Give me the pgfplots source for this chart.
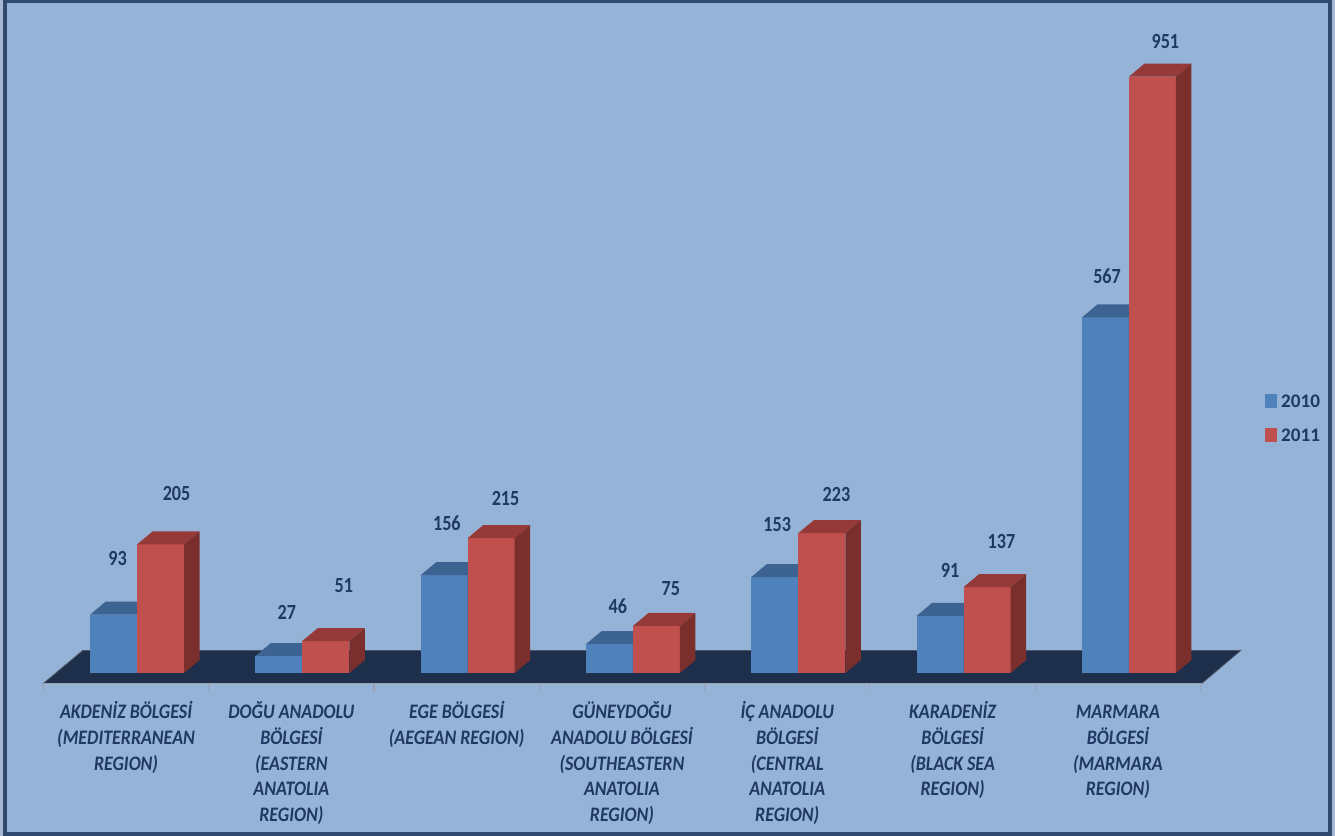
\documentclass[border=0pt]{standalone}
\usepackage{fontspec}
\setmainfont{Carlito}
\usepackage{graphicx}
\usepackage{pgfplots}
\pgfplotsset{compat=1.18}
\usepackage{pgfplotstable}

\definecolor{bgblue}{HTML}{95B3D7}
\definecolor{outer}{HTML}{A4B8D2}
\definecolor{frame}{HTML}{2F4A6E}
\definecolor{floor}{HTML}{1D2F4A}
\definecolor{axisgray}{HTML}{9AA3AF}
\definecolor{navy}{HTML}{1F3864}
\definecolor{bfront}{HTML}{4F81BD}
\definecolor{btop}{HTML}{3C6392}
\definecolor{bside}{HTML}{355782}
\definecolor{rfront}{HTML}{C0504D}
\definecolor{rtop}{HTML}{953A38}
\definecolor{rside}{HTML}{7B2F2D}

% bar geometry (pt): half width, depth offsets, pt per unit
\def\bw{11.75pt}
\def\dx{7.75pt}
\def\dy{6.5pt}
\def\yu{0.3135}

% 3d bar drawn as a mark at the top-front centre of the category
\newcommand\prism[5]{%
\pgfdeclareplotmark{#1}{%
  \pgfmathsetmacro\bh{\barv*\yu}%
  \pgfpathrectanglecorners{\pgfpoint{#2-\bw}{-\bh pt}}{\pgfpoint{#2+\bw}{0pt}}%
  \pgfsetfillcolor{#3}\pgfusepath{fill}%
  \pgfpathmoveto{\pgfpoint{#2-\bw}{0pt}}%
  \pgfpathlineto{\pgfpoint{#2+\bw}{0pt}}%
  \pgfpathlineto{\pgfpoint{#2+\bw+\dx}{\dy}}%
  \pgfpathlineto{\pgfpoint{#2-\bw+\dx}{\dy}}%
  \pgfpathclose
  \pgfsetfillcolor{#4}\pgfusepath{fill}%
  \pgfpathmoveto{\pgfpoint{#2+\bw}{0pt}}%
  \pgfpathlineto{\pgfpoint{#2+\bw+\dx}{\dy}}%
  \pgfpathlineto{\pgfpoint{#2+\bw+\dx}{\dy-\bh pt}}%
  \pgfpathlineto{\pgfpoint{#2+\bw}{-\bh pt}}%
  \pgfpathclose
  \pgfsetfillcolor{#5}\pgfusepath{fill}%
}}
\prism{prismb}{-11.75pt}{bfront}{btop}{bside}
\prism{prismr}{11.75pt}{rfront}{rtop}{rside}

\newcommand\lab[1]{\scalebox{0.87}[1]{\fontsize{10.3}{12.85}\selectfont\bfseries\itshape\begin{tabular}{@{}c@{}}#1\end{tabular}}}

% x, value, label offset (pt)
\pgfplotstableread{
x y lx ly
0 93 -9.75 28
1 27 -7.75 21.65
2 156 -10.4 26
3 46 -7.6 18.75
4 153 -10.55 26.35
5 91 -6.75 22.85
6 567 -10.9 20.65
}\tabb
\pgfplotstableread{
x y lx ly
0 205 19.75 25.65
1 51 20.75 27.5
2 215 18.95 19.65
3 75 18.95 18.85
4 223 19.1 19.15
5 137 18.95 23
6 951 18.25 17.5
}\tabr

\pgfplotsset{bar3d/.style={
  scatter, only marks, forget plot,
  scatter/@pre marker code/.code={},
  scatter/@post marker code/.code={},
  visualization depends on=rawy \as \barv,
  visualization depends on=\thisrow{lx} \as \lx,
  visualization depends on=\thisrow{ly} \as \ly,
  /pgf/number format/assume math mode=true,
  nodes near coords={\scalebox{0.84}[1]{\pgfmathprintnumber{\pgfplotspointmeta}}},
  nodes near coords style={anchor=center, inner sep=0pt, xshift=\lx pt, yshift=\ly pt,
    text=navy, font=\fontsize{10.8}{12}\selectfont\bfseries},
}}

\begin{document}
\begin{tikzpicture}
\useasboundingbox (-27.2pt,-81.5pt) rectangle (640.3pt,336.5pt);
\fill[outer] (-27.2pt,-81.5pt) rectangle (640.3pt,336.5pt);
\filldraw[fill=bgblue, draw=frame, line width=2pt] (-24.55pt,-80.65pt) rectangle (637.8pt,335.85pt);
% floor
\filldraw[fill=floor, draw=gray!50!floor, line width=0.4pt]
  (-5.55pt,-5.25pt) -- (573.65pt,-5.25pt) -- (593.15pt,11.25pt) -- (14.15pt,11.25pt) -- cycle;
\draw[axisgray, line width=0.6pt] (-5.55pt,-5.25pt) -- (573.65pt,-5.25pt);
\foreach \k in {0,...,7}
  \draw[axisgray, line width=0.6pt] ({-5.55pt+\k*82.65pt},-5.25pt) -- ++(0,-3.5pt);

\begin{axis}[
  at={(0,0)}, anchor=south west,
  x=82.65pt, y=0.3135pt,
  xmin=-0.5, xmax=6.5, ymin=0, ymax=1040,
  clip=false,
  axis line style={draw=none},
  major tick length=0pt,
  ytick=\empty,
  xtick={0,...,6},
  xticklabels={
    \lab{AKDENİZ BÖLGESİ\\(MEDITERRANEAN\\REGION)},
    \lab{DOĞU ANADOLU\\BÖLGESİ\\(EASTERN\\ANATOLIA\\REGION)},
    \lab{EGE BÖLGESİ\\(AEGEAN REGION)},
    \lab{GÜNEYDOĞU\\ANADOLU BÖLGESİ\\(SOUTHEASTERN\\ANATOLIA\\REGION)},
    \lab{İÇ ANADOLU\\BÖLGESİ\\(CENTRAL\\ANATOLIA\\REGION)},
    \lab{KARADENİZ\\BÖLGESİ\\(BLACK SEA\\REGION)},
    \lab{MARMARA\\BÖLGESİ\\(MARMARA\\REGION)}},
  xticklabel style={anchor=north, inner sep=0pt, xshift=-5.5pt, yshift=-13.65pt, text=navy},
  legend cell align=left,
  legend style={at={(1.0462,0.4279)}, anchor=north west, draw=none, fill=none,
    inner sep=0pt, row sep=10.2pt, text=navy,
    font=\fontsize{9.6}{9.6}\selectfont\bfseries,
    nodes={inner sep=0pt, text height=6.5pt, text depth=0pt},
    /tikz/every odd column/.style={column sep=2pt}},
]
\addplot[bar3d, mark=prismb] table[x=x, y=y] {\tabb};
\addplot[bar3d, mark=prismr] table[x=x, y=y] {\tabr};
\addlegendimage{legend image code/.code={\fill[bfront] (0pt,-3.15pt) rectangle (5.5pt,3.15pt);}}
\addlegendentry{2010}
\addlegendimage{legend image code/.code={\fill[rfront] (0pt,-3.15pt) rectangle (5.5pt,3.15pt);}}
\addlegendentry{2011}
\end{axis}
\end{tikzpicture}
\end{document}
